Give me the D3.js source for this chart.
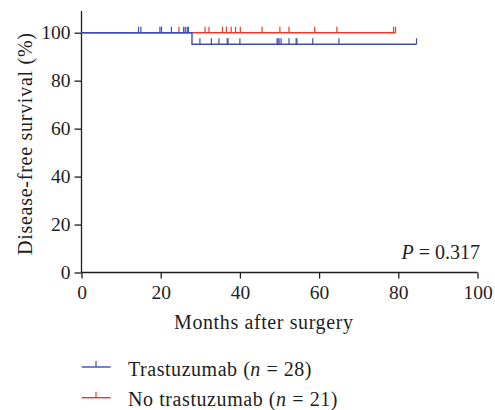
<!DOCTYPE html>
<html><head><meta charset="utf-8">
<script src="https://cdn.jsdelivr.net/npm/d3@7/dist/d3.min.js"></script>
<style>body{margin:0;background:#fff}svg{display:block}text{font-family:"Liberation Serif","DejaVu Serif",serif;fill:#1e1e1e}</style>
</head><body><svg id="c" width="495" height="410"></svg>
<script>
const xTicks = [0, 20, 40, 60, 80, 100];
const yTicks = [0, 20, 40, 60, 80, 100];
const seriesNames = ["Trastuzumab", "No trastuzumab"];
const seriesN = [28, 21];
// step curves: [month, survival %]
const trastuzumabSteps = [[0, 100], [27.9, 100], [27.9, 95.2], [84.6, 95.2]];
const noTrastuzumabSteps = [[0, 100], [79.3, 100]];
// censor marks: [month, survival %]
const trastuzumabCensor = [[14.4,100],[15.0,100],[19.8,100],[20.2,100],[22.7,100],[25.8,100],[26.2,100],[26.7,100],[27.0,100],
  [29.9,95.2],[32.8,95.2],[34.7,95.2],[36.8,95.2],[37.0,95.2],[40.0,95.2],[49.4,95.2],[49.6,95.2],[49.9,95.2],[50.4,95.2],
  [52.4,95.2],[54.2,95.2],[54.4,95.2],[58.4,95.2],[65.0,95.2],[84.6,95.2]];
const noTrastuzumabCensor = [[24.6,100],[31.2,100],[32.2,100],[35.6,100],[36.6,100],[37.8,100],[38.9,100],[40.1,100],
  [45.6,100],[50.1,100],[52.4,100],[58.9,100],[64.5,100],[78.8,100],[79.3,100]];
const pLabel = "0.317";

const colors = ["#3d4db5", "#e8392c"];
const svg = d3.select("#c");
const x = d3.scaleLinear().domain([0, 100]).range([81.5, 477.5]);
const y = d3.scaleLinear().domain([0, 100]).range([272.5, 32.7]);

// axes
const xa = svg.append("g").attr("transform", `translate(0,${y(0)})`)
  .call(d3.axisBottom(x).tickValues(xTicks).tickSize(6).tickPadding(7));
const ya = svg.append("g").attr("transform", `translate(${x(0)},0)`)
  .call(d3.axisLeft(y).tickValues(yTicks).tickSize(7).tickPadding(4));
ya.select(".domain").attr("d", `M0,${y(0)}V${y(109)}`);
xa.select(".domain").attr("d", `M${x(0)},0H${x(100)}`);
[xa, ya].forEach(a => {
  a.selectAll("path,line").attr("stroke", "#1e1e1e").attr("stroke-width", 1.3);
  a.selectAll("text").style("font-family", '"Liberation Serif",serif').style("font-size", "19.5px").attr("fill", "#1e1e1e");
});

const line = d3.line().x(d => x(d[0])).y(d => y(d[1]));
const steps = [trastuzumabSteps, noTrastuzumabSteps];
const censors = [trastuzumabCensor, noTrastuzumabCensor];
[1, 0].forEach(i => {
  svg.append("path").datum(steps[i]).attr("d", line).attr("fill", "none")
    .attr("stroke", colors[i]).attr("stroke-width", 1.4);
  svg.append("g").selectAll("line").data(censors[i]).join("line")
    .attr("x1", d => x(d[0])).attr("x2", d => x(d[0]))
    .attr("y1", d => y(d[1])).attr("y2", d => y(d[1]) - 6)
    .attr("stroke", colors[i]).attr("stroke-width", 1.2);
});

function fit(sel, w) { sel.attr("textLength", w).attr("lengthAdjust", "spacing"); }

// axis titles
const xt = svg.append("text").attr("x", 174).attr("y", 328.5)
  .style("font-size", "20px").text("Months after surgery");
fit(xt, 179);
const yt = svg.append("text").attr("transform", `translate(32,255) rotate(-90)`)
  .style("font-size", "20px").text("Disease-free survival (%)");
fit(yt, 222);

// P value
const pt = svg.append("text").attr("x", 480).attr("y", 258.5).attr("text-anchor", "end").style("font-size", "20px");
pt.append("tspan").style("font-style", "italic").text("P");
pt.append("tspan").text(" = " + pLabel);

// legend
const ly = [367, 397.7];
const lw = [183.5, 209.5];
[0, 1].forEach(i => {
  const g = svg.append("g");
  g.append("line").attr("x1", 81.7).attr("x2", 110.7).attr("y1", ly[i]).attr("y2", ly[i])
    .attr("stroke", colors[i]).attr("stroke-width", 1.4);
  g.append("line").attr("x1", 96).attr("x2", 96).attr("y1", ly[i]).attr("y2", ly[i] - 6)
    .attr("stroke", colors[i]).attr("stroke-width", 1.2);
  const t = g.append("text").attr("x", 128).attr("y", ly[i] + 8.5).style("font-size", "20px");
  t.append("tspan").text(seriesNames[i] + " (");
  t.append("tspan").style("font-style", "italic").text("n");
  t.append("tspan").text(" = " + seriesN[i] + ")");
  fit(t, lw[i]);
});
</script></body></html>
